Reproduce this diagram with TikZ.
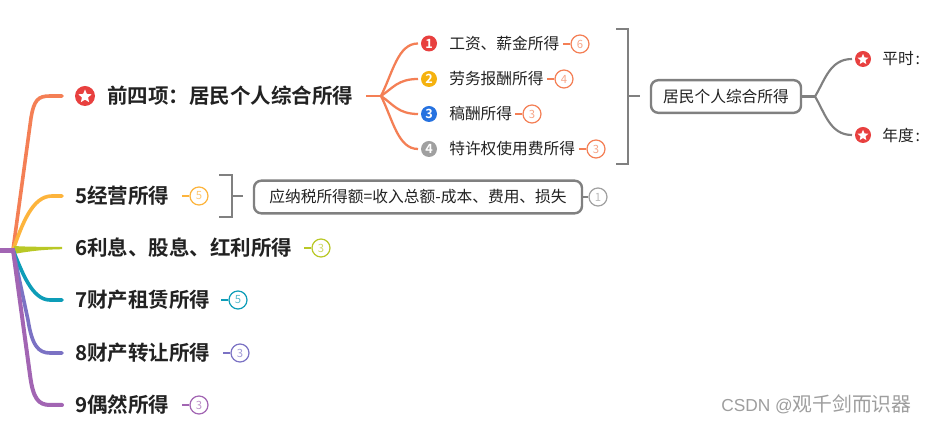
\documentclass[tikz,border=0pt]{standalone}
\usepackage{fontspec}
\setmainfont{Noto Sans CJK SC}[BoldFont={* Bold}]
\newfontfamily\wmfont{Liberation Sans}
\usetikzlibrary{shapes.geometric}
\definecolor{cOrange}{HTML}{F47F55}
\definecolor{cYellow}{HTML}{FDB43C}
\definecolor{cGreen}{HTML}{B9C826}
\definecolor{cTeal}{HTML}{0D9DB8}
\definecolor{cIndigo}{HTML}{7B72C4}
\definecolor{cPurple}{HTML}{A265B3}
\definecolor{cGrayLine}{HTML}{808080}
\definecolor{cInk}{HTML}{222222}
\definecolor{cRed}{HTML}{E8403F}
\definecolor{cGold}{HTML}{F5B20F}
\definecolor{cBlue}{HTML}{2672E0}
\definecolor{cMid}{HTML}{A0A0A0}
\tikzset{
  x=0.75pt,y=-0.75pt,
  main/.style={anchor=west,inner sep=0pt,outer xsep=9.75pt,text=cInk,font=\fontsize{15.4}{18}\selectfont\bfseries},
  subt/.style={anchor=west,inner sep=0pt,text=cInk,font=\fontsize{11.8}{14}\selectfont},
  branch/.style={line width=2.7pt,line cap=round,line join=round},
  twig/.style={line width=1.7pt,cOrange,line join=round},
  badge/.style={circle,draw=#1,line width=0.9pt,minimum size=13.5pt,inner sep=0pt,fill=white,text=#1!70,font=\fontsize{8.5}{10}\selectfont},
  numic/.style={circle,fill=#1,minimum size=12pt,inner sep=0pt,outer sep=2.25pt,text=white,font=\fontsize{9.5}{10}\selectfont\bfseries},
  bracket/.style={line width=1.6pt,cGrayLine},
  boxed/.style={draw=cGrayLine,line width=1.8pt,rounded corners=5.5pt,fill=white,inner sep=0pt,text=cInk,font=\fontsize{11.8}{14}\selectfont,minimum height=24.5pt},
  starbg/.style={circle,fill=cRed,inner sep=0pt},
  starfg/.style={star,star points=5,star point ratio=2.2,fill=white,inner sep=0pt},
}
\begin{document}
\begin{tikzpicture}
\useasboundingbox (0,0) rectangle (926,423);
\fill[white] (0,0) rectangle (926,423);
% coordinates
\coordinate (root) at (13,250);
\coordinate (rootleft) at (0,250.5);
% top-level texts
\node[starbg,minimum size=15pt] (s1) at (85,96) {};
\node[starfg,minimum size=10.5pt] (s1i) at (85,96.5) {};
\coordinate (e1) at (62,96);
\node[main] (t1) at (94,96) {前四项：居民个人综合所得};
\node[main,outer xsep=0pt] (t2) at (75,196) {5经营所得};
\node[main,outer xsep=0pt] (t3) at (75,248) {6利息、股息、红利所得};
\node[main,outer xsep=0pt] (t4) at (75,300) {7财产租赁所得};
\node[main,outer xsep=0pt] (t5) at (75,353) {8财产转让所得};
\node[main,outer xsep=0pt] (t6) at (75,405) {9偶然所得};
\coordinate (e2) at (62,196);
\coordinate (e3) at (62,248);
\coordinate (e4) at (62,300);
\coordinate (e5) at (62,353);
\coordinate (e6) at (62,405);
% main branches
\draw[branch,cOrange] (root) -- (31,118) .. controls (34,100) and (38,96) .. (50,96) -- (e1);
\draw[branch,cYellow] (root) .. controls (22,225) and (32,196) .. (52,196) -- (e2);
\fill[cGreen] (14,246) .. controls (30,247) and (45,246.8) .. (62,246.8) -- (62,249.2) .. controls (45,249.5) and (30,251) .. (14,254) -- cycle;
\draw[branch,cTeal] (root) .. controls (22,272) and (32,300) .. (50,300) -- (e4);
\draw[branch,cIndigo] (root) -- (28,320) .. controls (32,345) and (38,353) .. (50,353) -- (e5);
\draw[branch,cPurple,line width=3pt] (root) -- (30,375) .. controls (33,398) and (38,405) .. (50,405) -- (e6);
\draw[cPurple,line width=3.8pt] (rootleft) -- (15,250.5);
% badges of top-level
\foreach \nm/\bx/\by/\col/\txt in {b2/199/196/cYellow/5,b3/321/248/cGreen/3,b4/238/300/cTeal/5,b5/240/353/cIndigo/3,b6/199/405/cPurple/3}{
  \node[badge=\col] (\nm) at (\bx,\by) {\txt};
  \draw[\col,line width=1.6pt] (\nm.west) -- ++(-7,0);
}
% fork 1
\coordinate (f1) at (381,96);
\node[numic=cRed] (n1) at (429,43.5) {1};
\node[numic=cGold] (n2) at (429,79) {2};
\node[numic=cBlue] (n3) at (429,114) {3};
\node[numic=cMid] (n4) at (429,149) {4};
\node[subt] (u1) at (449,43.5) {工资、薪金所得};
\node[subt] (u2) at (449,79) {劳务报酬所得};
\node[subt] (u3) at (449,114) {稿酬所得};
\node[subt] (u4) at (449,149) {特许权使用费所得};
\draw[twig] (366,96) coordinate (f0) -- (f1);
\draw[twig] (f1) .. controls (393,72) and (398,43.5) .. (n1.west);
\draw[twig] (f1) .. controls (393,88) and (398,79) .. (n2.west);
\draw[twig] (f1) .. controls (393,104) and (398,114) .. (n3.west);
\draw[twig] (f1) .. controls (393,120) and (398,149) .. (n4.west);
\foreach \nm/\bx/\by/\txt in {a1/580/44/6,a2/564/79/4,a3/532/114/3,a4/596/149/3}{
  \node[badge=cOrange] (\nm) at (\bx,\by) {\txt};
  \draw[cOrange,line width=1.6pt] (\nm.west) -- ++(-7,0);
}
% big bracket
\draw[bracket] (616,29) -- (628,29) -- (628,164) -- (616,164);
\draw[bracket] (628,96) -- (640,96);
% summary box
\node[boxed,minimum width=112.5pt] (box1) at (726,96.5) {居民个人综合所得};
\coordinate (f2) at (815,96.5);
\draw[bracket] (box1.east) -- (f2);
\node[starbg,minimum size=12pt,outer sep=2.25pt] (s2) at (863,59) {};
\node[starbg,minimum size=12pt,outer sep=2.25pt] (s3) at (863,135) {};
\node[starfg,minimum size=8.5pt] (s2i) at (863,59.5) {};
\node[starfg,minimum size=8.5pt] (s3i) at (863,135.5) {};
\draw[bracket] (f2) .. controls (825,80) and (830,59) .. (s2.west);
\draw[bracket] (f2) .. controls (825,113) and (830,135) .. (s3.west);
\node[subt] (v1) at (882,59) {平时\kern1.5pt:};
\node[subt] (v2) at (882,135) {年度\kern1.5pt:};
% second bracket
\draw[bracket] (219,175) -- (232,175) -- (232,217) -- (219,217);
\draw[bracket] (232,196) -- (243,196);
\node[boxed,minimum width=246pt] (box2) at (418,197) {应纳税所得额=收入总额-成本、费用、损失};
\node[badge=cMid] (c1) at (598,197) {1};
\draw[bracket,line width=1.4pt] (box2.east) -- (c1.west);
% watermark
\node[anchor=west,inner sep=0pt,text=black!38] (wm) at (721,404) {{\fontsize{13}{18}\selectfont\wmfont CSDN @}\fontsize{14.85}{18}\selectfont 观千剑而识器};
\end{tikzpicture}
\end{document}
